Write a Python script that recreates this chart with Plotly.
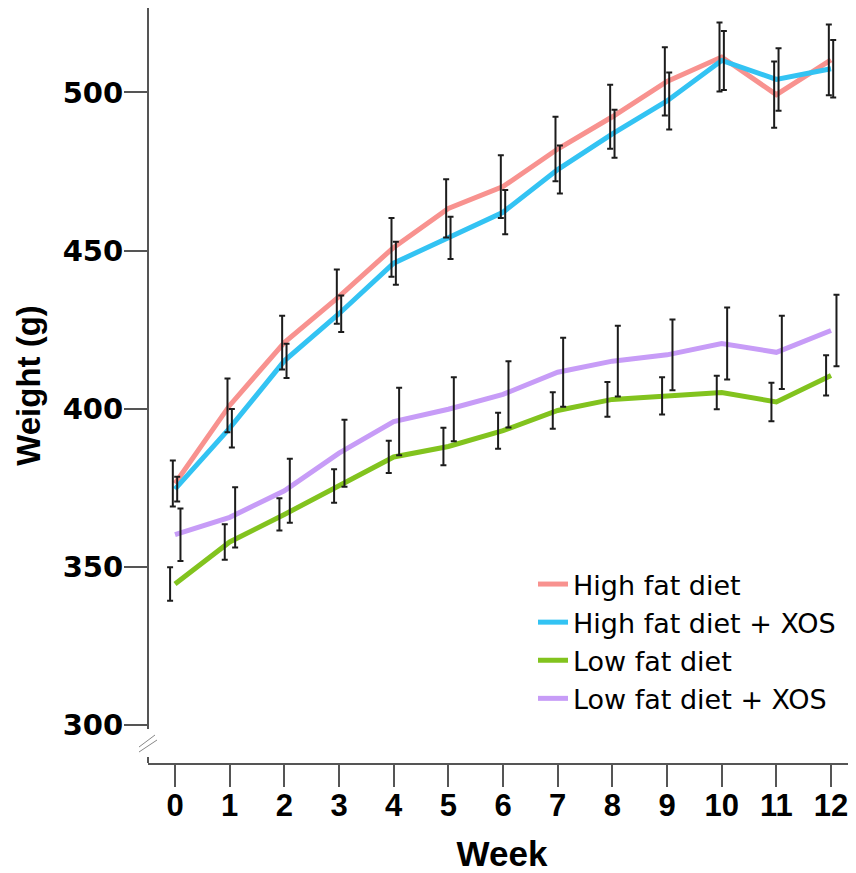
import plotly.graph_objects as go

weeks = [0, 1, 2, 3, 4, 5, 6, 7, 8, 9, 10, 11, 12]
tick_labels = [str(w) for w in weeks]

series_names = ["High fat diet", "High fat diet + XOS", "Low fat diet", "Low fat diet + XOS"]

hf_mean = [376.3, 401.0, 420.9, 435.4, 451.0, 463.3, 470.2, 482.1, 492.3, 503.5, 511.2, 499.3, 510.3]
hf_se = [7.3, 8.5, 8.5, 8.6, 9.3, 9.2, 9.9, 10.2, 10.1, 10.8, 10.9, 10.5, 11.2]
hfx_mean = [374.5, 393.8, 415.1, 430.0, 446.0, 454.0, 462.1, 475.6, 486.9, 497.3, 510.1, 504.1, 507.5]
hfx_se = [3.9, 6.1, 5.4, 5.8, 6.8, 6.7, 7.0, 7.6, 7.6, 9.0, 9.3, 9.9, 9.1]
lf_mean = [344.5, 357.8, 366.5, 375.5, 384.7, 388.0, 393.0, 399.4, 402.9, 404.0, 405.1, 402.1, 410.5]
lf_se = [5.3, 5.6, 5.1, 5.3, 5.1, 5.9, 5.7, 5.8, 5.5, 5.9, 5.3, 6.1, 6.4]
lfx_mean = [360.1, 365.6, 374.0, 385.9, 395.9, 399.8, 404.5, 411.5, 415.0, 417.0, 420.6, 417.8, 424.7]
lfx_se = [8.3, 9.5, 10.1, 10.6, 10.7, 10.1, 10.5, 10.9, 11.2, 11.2, 11.4, 11.6, 11.3]

colors = ["#F8928F", "#33C3F3", "#82C31E", "#C79CF7"]
# horizontal dodge of the error bars (in week units)
dodge = [-0.04, 0.04, -0.09, 0.1]

means = [hf_mean, hfx_mean, lf_mean, lfx_mean]
ses = [hf_se, hfx_se, lf_se, lfx_se]

fig = go.Figure()

for name, m, c in zip(series_names, means, colors):
    fig.add_trace(go.Scatter(
        x=weeks, y=m, mode="lines", name=name,
        line=dict(color=c, width=5), legendgroup=name,
    ))

for name, m, s, d in zip(series_names, means, ses, dodge):
    fig.add_trace(go.Scatter(
        x=[w + d for w in weeks], y=m, mode="markers",
        marker=dict(size=1, opacity=0), showlegend=False,
        error_y=dict(type="data", array=s, visible=True,
                     color="#1c1c1c", thickness=2, width=3),
        hoverinfo="skip",
    ))

axis_col = "#555555"

# The page adds an 8px body margin; figure is 848x865 so that in the screenshot
# the plot area spans x 148..856, y 8..763 (page pixels).
def py(p):
    return (763 - p) / 755.0

def px(p):
    return (p - 148) / 708.0

shapes = [
    dict(type="line", xref="paper", yref="paper", x0=0, x1=0, y0=1, y1=py(729),
         line=dict(color=axis_col, width=2)),
    dict(type="line", xref="paper", yref="paper", x0=0, x1=0, y0=py(757), y1=0,
         line=dict(color=axis_col, width=2)),
    dict(type="line", xref="paper", yref="paper", x0=px(139), x1=px(157), y0=py(752), y1=py(740),
         line=dict(color="#888888", width=1)),
    dict(type="line", xref="paper", yref="paper", x0=px(139), x1=px(155), y0=py(747), y1=py(735),
         line=dict(color="#888888", width=1)),
]

fig.update_layout(
    width=848, height=865,
    margin=dict(l=140, r=0, t=0, b=110),
    paper_bgcolor="white", plot_bgcolor="white",
    showlegend=True,
    legend=dict(
        x=px(533), y=py(560), xanchor="left", yanchor="top",
        font=dict(family="DejaVu Sans", size=27, color="black"),
        bgcolor="rgba(0,0,0,0)", tracegroupgap=0, itemwidth=30,
    ),
    shapes=shapes,
    xaxis=dict(
        range=[-0.494, 12.457], tickmode="array", tickvals=weeks, ticktext=tick_labels,
        showline=True, linecolor=axis_col, linewidth=2, automargin=False,
        ticks="outside", ticklen=22, tickwidth=2, tickcolor=axis_col,
        showgrid=False, zeroline=False, ticklabelstandoff=-8,
        tickfont=dict(family="Liberation Sans", size=31, color="black", weight="bold"),
        title=dict(text="<b>Week</b>", font=dict(family="Liberation Sans", size=35, color="black"), standoff=20),
    ),
    yaxis=dict(
        range=[287.9, 526.7], tickvals=[300, 350, 400, 450, 500], automargin=False,
        showline=False, ticks="outside", ticklen=23, tickwidth=2, tickcolor=axis_col,
        showgrid=False, zeroline=False, ticklabelstandoff=-5,
        tickfont=dict(family="DejaVu Sans", size=29, color="black", weight="bold"),
        title=dict(text="<b>Weight (g)</b>", font=dict(family="Liberation Sans", size=33, color="black"), standoff=12),
    ),
)

fig.write_html("out.html")
